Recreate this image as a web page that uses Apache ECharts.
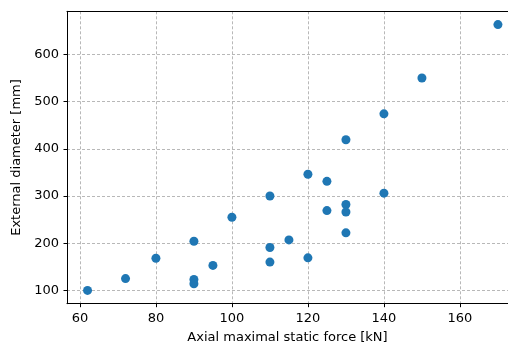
<!DOCTYPE html>
<html><head><meta charset="utf-8">
<script src="https://cdn.jsdelivr.net/npm/echarts@6/dist/echarts.min.js"></script>
<style>html,body{margin:0;padding:0;background:#fff}#c{width:508px;height:352px}</style>
</head><body><div id="c"></div>
<script>
const forceKN = [62, 72, 80, 90, 90, 90, 95, 100, 110, 110, 110, 115, 120, 120, 125, 125, 130, 130, 130, 130, 140, 140, 150, 170];
const diameterMM = [100, 125, 168, 204, 123, 114, 153, 255, 300, 191, 160, 207, 346, 169, 331, 269, 419, 282, 266, 222, 474, 306, 550, 663];
const xTicks = [60, 80, 100, 120, 140, 160];
const yTicks = [100, 200, 300, 400, 500, 600];

const pts = forceKN.map((x, i) => [x, diameterMM[i]]);
const font = 'DejaVu Sans';
const xMin = 56.6, xMax = 172.65;
const chart = echarts.init(document.getElementById('c'), null, {renderer: 'canvas'});
chart.setOption({
  animation: false,
  grid: {left: 67, top: 11.3, right: 0, bottom: 48.3, show: false, outerBoundsMode: 'none'},
  xAxis: [{
    type: 'value', min: xMin, max: xMax,
    name: 'Axial maximal static force [kN]', nameLocation: 'middle', nameGap: 27,
    nameTextStyle: {fontFamily: font, fontSize: 13, color: '#000'},
    axisLine: {show: true, lineStyle: {color: '#000', width: 1}},
    axisTick: {show: true, inside: false, length: 3.5, customValues: xTicks, lineStyle: {color: '#000', width: 1}},
    axisLabel: {customValues: xTicks, margin: 8, fontFamily: font, fontSize: 13, color: '#000'},
    splitLine: {show: true, lineStyle: {color: '#b8b8b8', type: [3, 2], width: 1}}
  }, {
    type: 'value', position: 'top', min: xMin, max: xMax,
    axisLine: {show: true, onZero: false, lineStyle: {color: '#000', width: 1}},
    axisTick: {show: false}, axisLabel: {show: false}, splitLine: {show: false}
  }],
  yAxis: {
    type: 'value', min: 71.85, max: 691.15,
    name: 'External diameter [mm]', nameLocation: 'middle', nameGap: 36,
    nameTextStyle: {fontFamily: font, fontSize: 13, color: '#000'},
    axisLine: {show: true, lineStyle: {color: '#000', width: 1}},
    axisTick: {show: true, inside: false, length: 3.5, customValues: yTicks, lineStyle: {color: '#000', width: 1}},
    axisLabel: {customValues: yTicks, margin: 8, fontFamily: font, fontSize: 13, color: '#000'},
    splitLine: {show: true, lineStyle: {color: '#b8b8b8', type: [3, 2], width: 1}}
  },
  series: [{
    type: 'scatter', data: pts, symbolSize: 9,
    itemStyle: {color: '#1f77b4', opacity: 1}
  }]
});
</script></body></html>
